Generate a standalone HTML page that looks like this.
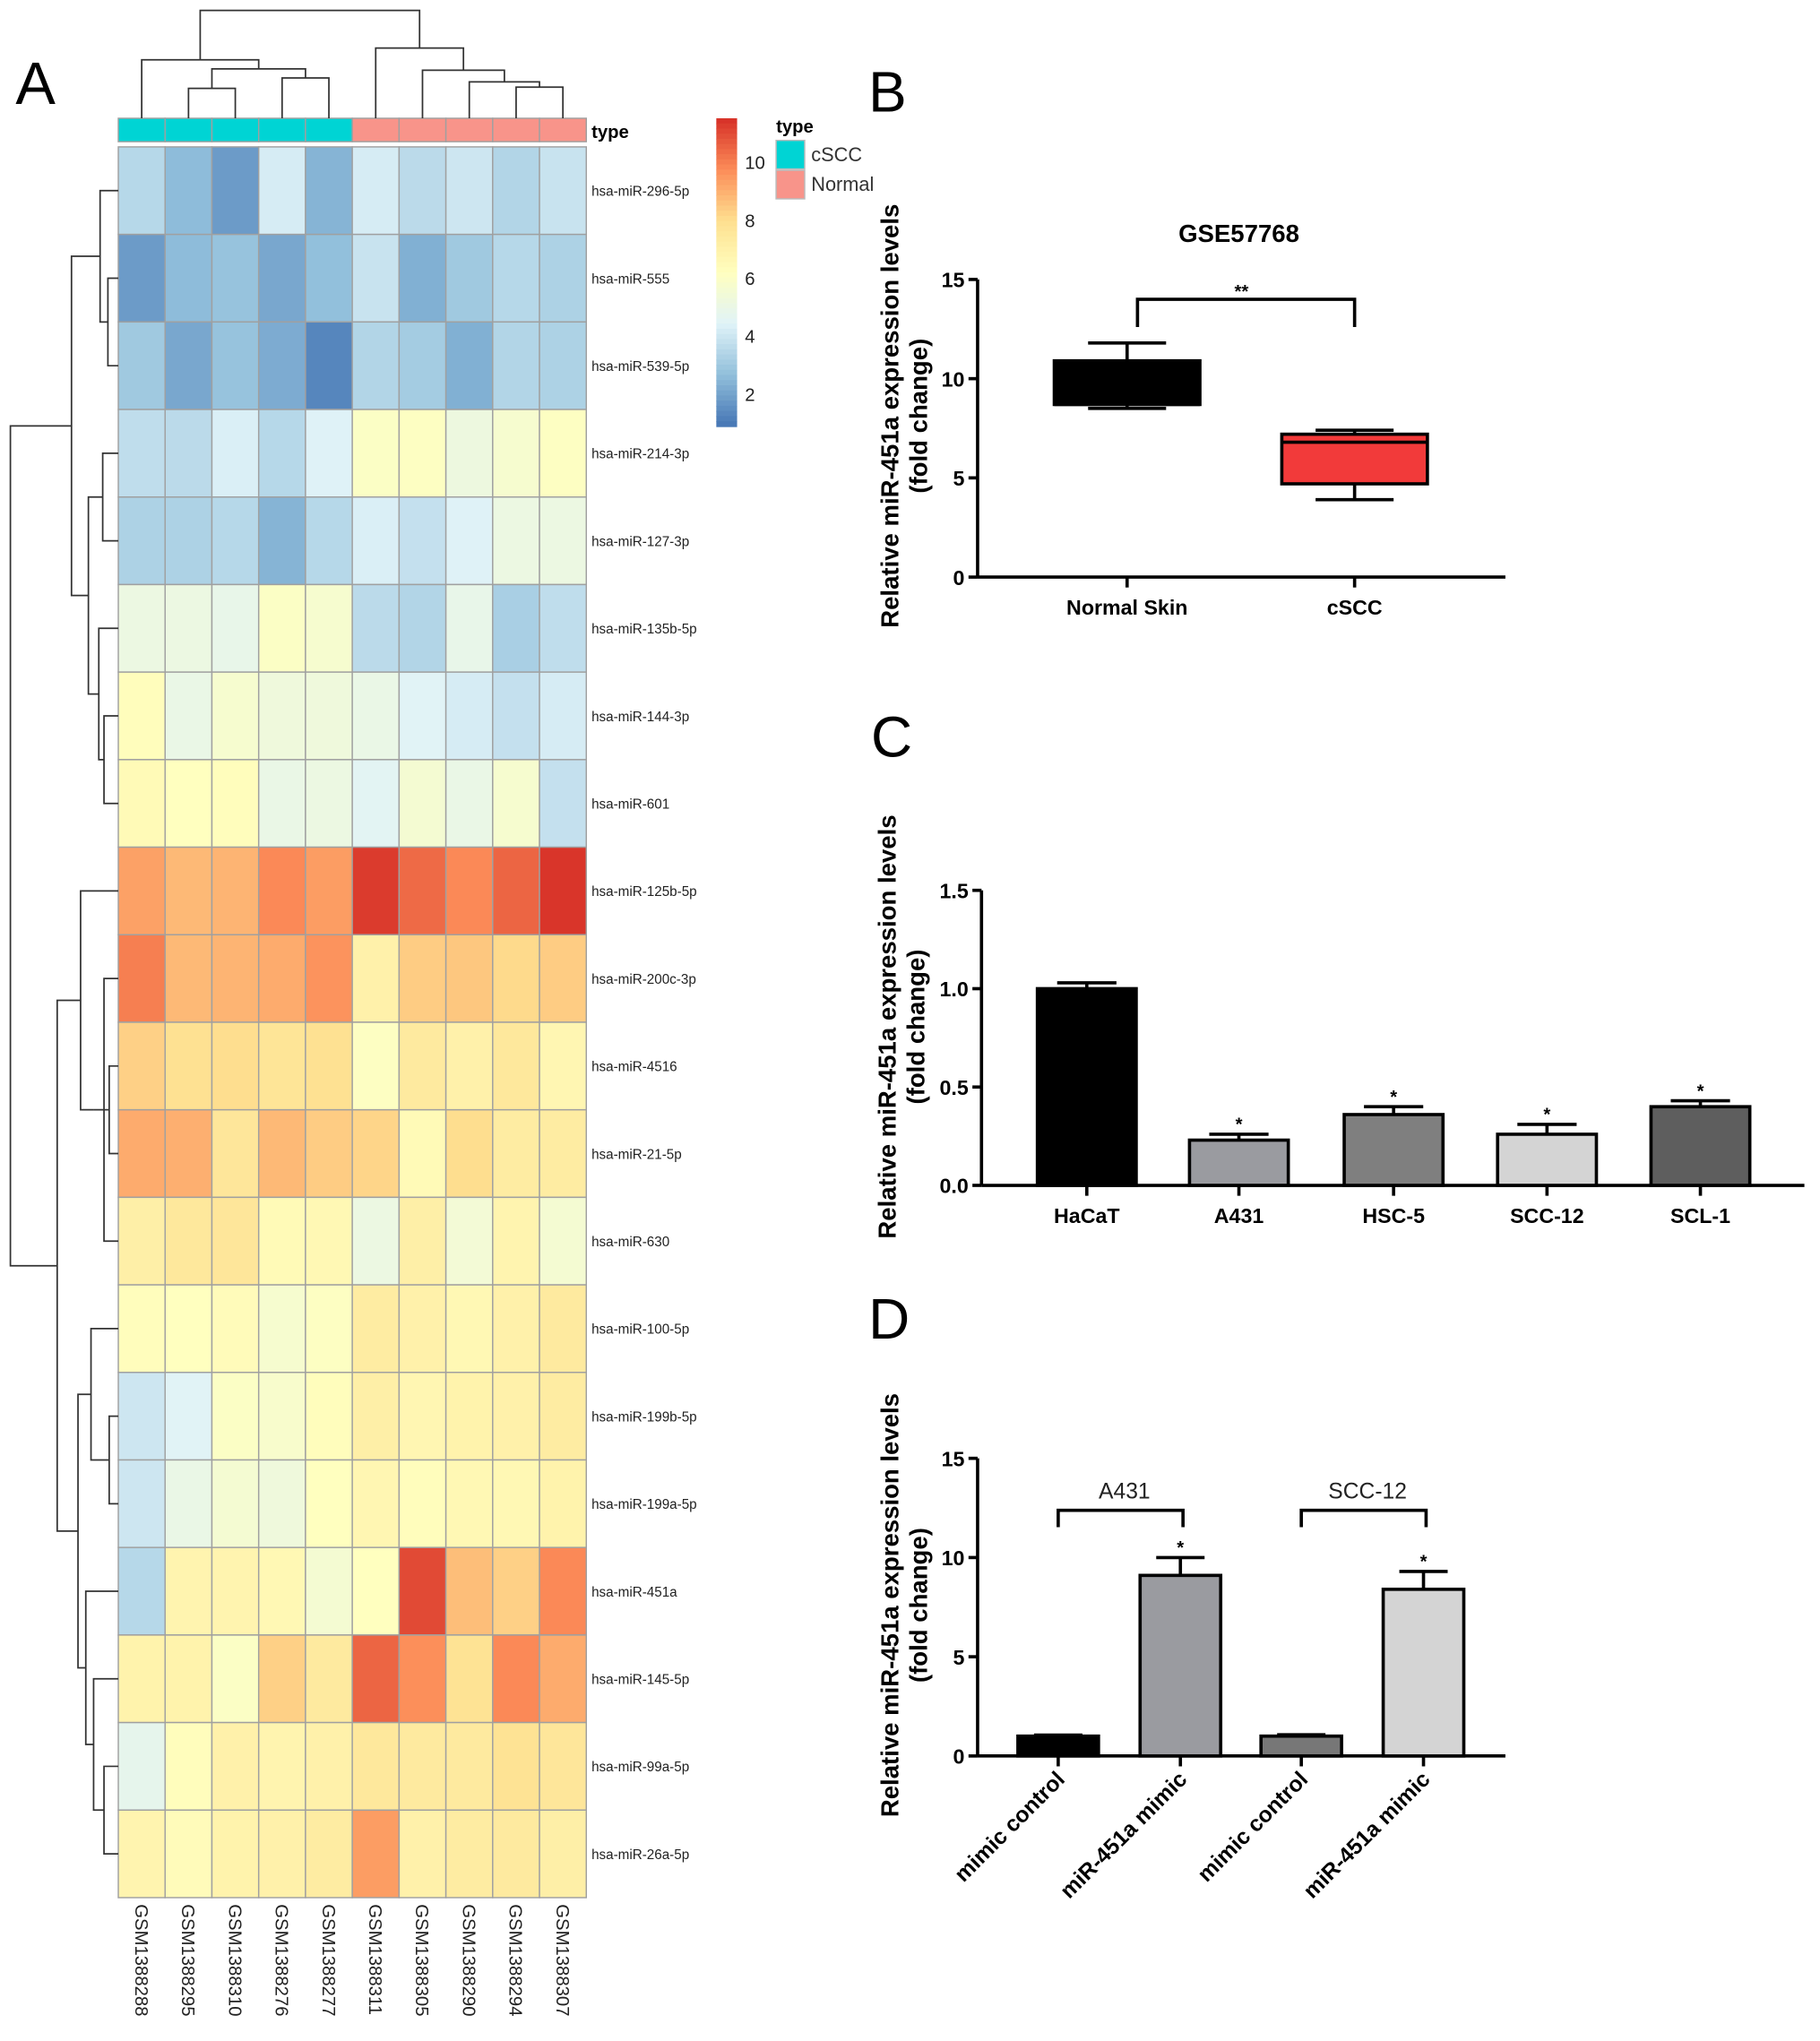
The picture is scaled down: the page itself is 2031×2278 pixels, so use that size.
<!DOCTYPE html>
<html><head><meta charset="utf-8"><style>
html,body{margin:0;padding:0;background:#fff;}
svg{display:block;font-family:"Liberation Sans",Arial,sans-serif;}
</style></head><body>
<svg id="fig" width="2031" height="2278" viewBox="0 0 1400 1570.3" preserveAspectRatio="none" xmlns="http://www.w3.org/2000/svg">
<g id="hm"></g>
<g id="pb"></g>
<g id="pc"></g>
<g id="pd"></g>
</svg>
<script>
// ---------- Heatmap data ----------
const sampleNames = ["GSM1388288","GSM1388295","GSM1388310","GSM1388276","GSM1388277","GSM1388311","GSM1388305","GSM1388290","GSM1388294","GSM1388307"];
const sampleTypes = ["cSCC","cSCC","cSCC","cSCC","cSCC","Normal","Normal","Normal","Normal","Normal"];
const mirNames = ["hsa-miR-296-5p","hsa-miR-555","hsa-miR-539-5p","hsa-miR-214-3p","hsa-miR-127-3p","hsa-miR-135b-5p","hsa-miR-144-3p","hsa-miR-601","hsa-miR-125b-5p","hsa-miR-200c-3p","hsa-miR-4516","hsa-miR-21-5p","hsa-miR-630","hsa-miR-100-5p","hsa-miR-199b-5p","hsa-miR-199a-5p","hsa-miR-451a","hsa-miR-145-5p","hsa-miR-99a-5p","hsa-miR-26a-5p"];
const expr = [
[3.5,2.6,1.8,4.2,2.4,4.2,3.6,4.0,3.4,3.9],
[1.8,2.6,2.8,2.1,2.7,3.9,2.3,3.0,3.5,3.3],
[3.0,2.1,2.8,2.2,1.3,3.4,3.1,2.3,3.4,3.3],
[3.7,3.6,4.3,3.5,4.4,6.0,6.1,5.2,5.7,6.1],
[3.3,3.3,3.5,2.4,3.5,4.3,3.8,4.4,5.1,5.1],
[5.1,5.1,4.9,6.0,5.7,3.6,3.4,4.9,3.2,3.7],
[6.3,5.0,5.7,5.3,5.3,5.0,4.5,4.2,3.8,4.2],
[6.5,6.2,6.3,5.0,5.1,4.6,5.6,5.0,5.7,3.8],
[9.3,8.8,8.9,9.8,9.4,11.3,10.4,9.8,10.5,11.4],
[10.0,8.8,8.9,9.1,9.6,7.0,8.4,8.5,8.1,8.4],
[8.3,7.9,8.0,7.7,7.9,6.1,7.4,7.0,7.5,6.7],
[9.1,9.0,7.6,8.8,8.4,8.2,6.5,8.0,7.3,7.3],
[7.1,7.5,7.6,6.5,6.6,5.1,7.1,5.5,6.8,5.6],
[6.3,6.2,6.4,5.7,6.1,7.3,7.0,6.6,7.0,7.4],
[4.0,4.5,6.0,5.8,6.3,7.1,6.7,6.9,7.0,7.3],
[4.0,5.0,5.6,5.3,6.2,6.7,6.3,6.6,6.6,6.9],
[3.5,6.8,6.8,6.6,5.6,6.2,11.0,8.7,8.3,9.8],
[6.9,6.9,6.0,8.3,7.4,10.5,9.7,7.8,9.8,9.1],
[4.8,6.3,7.0,6.8,7.0,7.5,7.4,7.4,7.8,7.6],
[6.8,6.4,6.9,7.0,7.3,9.4,7.0,7.3,7.4,7.1]];
const colorTicks = [2,4,6,8,10];
// ---------- Panel B data ----------
const bCats = ["Normal Skin","cSCC"];
const bMin = [8.5,3.9], bQ1=[8.7,4.7], bMed=[8.7,6.8], bQ3=[10.9,7.2], bMax=[11.8,7.4];
const bTicks=[0,5,10,15];
// ---------- Panel C data ----------
const cCats=["HaCaT","A431","HSC-5","SCC-12","SCL-1"];
const cVals=[1.0,0.23,0.36,0.26,0.40];
const cErr=[0.03,0.03,0.04,0.05,0.03];
const cSig=["","*","*","*","*"];
const cTicks=[0,0.5,1.0,1.5];
// ---------- Panel D data ----------
const dCats=["mimic control","miR-451a mimic","mimic control","miR-451a mimic"];
const dVals=[1.0,9.1,1.0,8.4];
const dErr=[0.05,0.9,0.07,0.9];
const dSig=["","*","","*"];
const dGroups=["A431","SCC-12"];
const dTicks=[0,5,10,15];

const NS="http://www.w3.org/2000/svg";
function mk(parent,tag,attrs,text){const e=document.createElementNS(NS,tag);for(const k in attrs)e.setAttribute(k,attrs[k]);if(text!==undefined)e.textContent=text;parent.appendChild(e);return e;}

const stops=["#4575B4","#91BFDB","#E0F3F8","#FFFFBF","#FEE090","#FC8D59","#D73027"];
const vmin=0.9,vmax=11.5;
function hex(h){return [parseInt(h.slice(1,3),16),parseInt(h.slice(3,5),16),parseInt(h.slice(5,7),16)];}
function cmap(v){let t=(v-vmin)/(vmax-vmin);t=Math.max(0,Math.min(1,t))*(stops.length-1);const i=Math.min(Math.floor(t),stops.length-2);const f=t-i;const a=hex(stops[i]),b=hex(stops[i+1]);return "rgb("+a.map((x,k)=>Math.round(x+(b[k]-x)*f)).join(",")+")";}

// ---------- Heatmap ----------
const hm=document.getElementById('hm');
const HX=91,HY=113,CW=36,RH=(1460-113)/20;
expr.forEach((row,r)=>row.forEach((v,c)=>{
  const e=mk(hm,'rect',{x:HX+c*CW,y:HY+r*RH,width:CW,height:RH,fill:cmap(v),stroke:'#a0a0a0','stroke-width':1});
  
  
}));
sampleTypes.forEach((t,c)=>{
  const e=mk(hm,'rect',{x:HX+c*CW,y:91,width:CW,height:18,fill:t==="cSCC"?"#00D4D4":"#F8948A",stroke:'#a0a0a0','stroke-width':1});
  
  
});
let tl=mk(hm,'text',{x:455,y:106,'font-size':14,'font-weight':'bold'},"type");

mirNames.forEach((n,r)=>{const e=mk(hm,'text',{x:455,y:HY+(r+0.5)*RH+4,'font-size':10.5,fill:'#222'},n);
  });
sampleNames.forEach((n,c)=>{const x=HX+(c+0.5)*CW-5;const e=mk(hm,'text',{x:0,y:0,'font-size':14,fill:'#222',transform:`translate(${x},1465) rotate(90)`},n);
  });
const cbTop=91,cbBot=328;
const cbY=v=>125+(10-v)*22.3;
for(let i=0;i<60;i++){const y0=cbTop+(cbBot-cbTop)*i/60;const v=(10-(y0+2-125)/22.3);
  const e=mk(hm,'rect',{x:551,y:y0,width:16,height:(cbBot-cbTop)/60+0.6,fill:cmap(v)});
  }
colorTicks.forEach(v=>{const e=mk(hm,'text',{x:573,y:cbY(v)+5,'font-size':14,fill:'#222'},String(v));
  });
let lt=mk(hm,'text',{x:597,y:102,'font-size':14,'font-weight':'bold'},"type");
[["cSCC","#00D4D4",108],["Normal","#F8948A",131]].forEach(([n,col,y])=>{
  const r=mk(hm,'rect',{x:597,y:y,width:22,height:22,fill:col,stroke:'#bbb'});
  const t=mk(hm,'text',{x:624,y:y+16,'font-size':15,fill:'#333'},n);});
let la=mk(hm,'text',{x:12,y:80,'font-size':46},"A");

function drawTree(node,pos,horizontal,leafEdge,g){
  if(typeof node==="number") return [pos(node),leafEdge];
  const a=drawTree(node.c[0],pos,horizontal,leafEdge,g),b=drawTree(node.c[1],pos,horizontal,leafEdge,g);
  const h=node.h;let d;
  if(horizontal) d=`M${a[1]},${a[0]}H${h}V${b[0]}H${b[1]}`;
  else d=`M${a[0]},${a[1]}V${h}H${b[0]}V${b[1]}`;
  const p=mk(g,'path',{d:d,fill:'none',stroke:'#333','stroke-width':1.2});
  
  return [(a[0]+b[0])/2,h];
}
const colTree={h:8,c:[{h:46,c:[0,{h:53,c:[{h:68,c:[1,2]},{h:60,c:[3,4]}]}]},{h:37,c:[5,{h:54,c:[6,{h:63,c:[7,{h:67,c:[8,9]}]}]}]}]};
drawTree(colTree,i=>HX+(i+0.5)*CW,false,91,hm);
const rowTree={h:8,c:[
 {h:55,c:[{h:77,c:[0,{h:83,c:[1,2]}]},{h:68,c:[{h:79,c:[3,4]},{h:76,c:[5,{h:80,c:[6,7]}]}]}]},
 {h:44,c:[{h:62,c:[8,{h:72,c:[{h:80,c:[9,12]},{h:84,c:[10,11]}]}]},{h:60,c:[{h:70,c:[13,{h:84,c:[14,15]}]},{h:66,c:[16,{h:72,c:[17,{h:80,c:[18,19]}]}]}]}]}]};
drawTree(rowTree,i=>HY+(i+0.5)*RH,true,91,hm);

function yAxis(g,x,y0,y1,vmax,ticks,fmt){
  const ys=v=>y0-(v/vmax)*(y0-y1);
  const l=mk(g,'line',{x1:x,y1:y1,x2:x,y2:y0,stroke:'#000','stroke-width':2.5});
  ticks.forEach(v=>{const t=mk(g,'line',{x1:x-7,y1:ys(v),x2:x,y2:ys(v),stroke:'#000','stroke-width':2.5});
    const tx=mk(g,'text',{x:x-10,y:ys(v)+6,'font-size':16,'font-weight':'bold','text-anchor':'end'},fmt(v));});
  return ys;
}
function yTitle(g,x,cy){
  const t1=mk(g,'text',{x:0,y:0,'font-size':19,'font-weight':'bold','text-anchor':'middle',transform:`translate(${x},${cy}) rotate(-90)`},"Relative miR-451a expression levels");
  
  const t2=mk(g,'text',{x:0,y:0,'font-size':19,'font-weight':'bold','text-anchor':'middle',transform:`translate(${x+22},${cy}) rotate(-90)`},"(fold change)");
  
}
function xAxis(g,x0,x1,y){const l=mk(g,'line',{x1:x0,y1:y,x2:x1,y2:y,stroke:'#000','stroke-width':2.5});}
function lbl(g,x,y,s,size,name){const t=mk(g,'text',{x:x,y:y,'font-size':size},s);return t;}

// ---------- Panel B ----------
const pb=document.getElementById('pb');
lbl(pb,668,86,"B",44,'panel-label-b');
const bt=mk(pb,'text',{x:953,y:186,'font-size':19,'font-weight':'bold','text-anchor':'middle'},"GSE57768");
const bys=yAxis(pb,752,444,215,15,bTicks,v=>String(v));
xAxis(pb,752,1158,444);
yTitle(pb,691,320);
const bX=[867,1042],bCol=["#000","#F23A3A"],BW=112;
bCats.forEach((c,i)=>{
  const x=bX[i];
  const w=mk(pb,'path',{d:`M${x},${bys(bMax[i])}V${bys(bMin[i])}M${x-30},${bys(bMax[i])}H${x+30}M${x-30},${bys(bMin[i])}H${x+30}`,stroke:'#000','stroke-width':2.5,fill:'none'});
  
  const r=mk(pb,'rect',{x:x-BW/2,y:bys(bQ3[i]),width:BW,height:bys(bQ1[i])-bys(bQ3[i]),fill:bCol[i],stroke:'#000','stroke-width':2.5});
  
  const m=mk(pb,'line',{x1:x-BW/2,x2:x+BW/2,y1:bys(bMed[i]),y2:bys(bMed[i]),stroke:'#000','stroke-width':2.5});
  const t=mk(pb,'line',{x1:x,x2:x,y1:444,y2:452,stroke:'#000','stroke-width':2.5});
  const tx=mk(pb,'text',{x:x,y:473,'font-size':16,'font-weight':'bold','text-anchor':'middle'},c);
});
const bb=mk(pb,'path',{d:`M875,${bys(12.6)}V${bys(14)}H1042V${bys(12.6)}`,stroke:'#000','stroke-width':2.5,fill:'none'});
const bs=mk(pb,'text',{x:955,y:229,'font-size':14,'font-weight':'bold','text-anchor':'middle'},"**");

function bars(g,xs,w,vals,err,sig,cols,ys,y0){
  vals.forEach((v,i)=>{
    const x=xs[i];
    const e=mk(g,'path',{d:`M${x},${ys(v)}V${ys(v+err[i])}M${x-w*0.3},${ys(v+err[i])}H${x+w*0.3}`,stroke:'#000','stroke-width':2.5,fill:'none'});
    
    const r=mk(g,'rect',{x:x-w/2,y:ys(v),width:w,height:y0-ys(v),fill:cols[i],stroke:'#000','stroke-width':2.5});
    
    if(sig[i]){const s=mk(g,'text',{x:x,y:ys(v+err[i])-3,'font-size':14,'font-weight':'bold','text-anchor':'middle'},sig[i]);}
    const t=mk(g,'line',{x1:x,x2:x,y1:y0,y2:y0+8,stroke:'#000','stroke-width':2.5});
  });
}

// ---------- Panel C ----------
const pc=document.getElementById('pc');
lbl(pc,670,582,"C",44,'panel-label-c');
const cys=yAxis(pc,755,912,685,1.5,cTicks,v=>v.toFixed(1));
xAxis(pc,755,1388,912);
yTitle(pc,689,790);
const cX=[836,953,1072,1190,1308];
bars(pc,cX,76,cVals,cErr,cSig,["#000","#9A9BA0","#7F7F7F","#D4D4D4","#5E5E5E"],cys,912);
cCats.forEach((c,i)=>{const t=mk(pc,'text',{x:cX[i],y:941,'font-size':16,'font-weight':'bold','text-anchor':'middle'},c);});

// ---------- Panel D ----------
const pd=document.getElementById('pd');
lbl(pd,668,1030,"D",44,'panel-label-d');
const dys=yAxis(pd,752,1351,1122,15,dTicks,v=>String(v));
xAxis(pd,752,1158,1351);
yTitle(pd,691,1235);
const dX=[814,908,1001,1095];
bars(pd,dX,62,dVals,dErr,dSig,["#000","#9A9BA0","#777","#D4D4D4"],dys,1351);
dCats.forEach((c,i)=>{const t=mk(pd,'text',{x:0,y:0,'font-size':17,'font-weight':'bold','text-anchor':'end',transform:`translate(${dX[i]+6},${1370}) rotate(-45)`},c);});
dGroups.forEach((gname,k)=>{
  const a=dX[2*k],b=dX[2*k+1];
  const p=mk(pd,'path',{d:`M${a},1175V1162H${b+2}V1175`,stroke:'#000','stroke-width':2.5,fill:'none'});
  const t=mk(pd,'text',{x:(a+b)/2+4,y:1153,'font-size':17,'text-anchor':'middle',fill:'#222'},gname);
});
</script>
</body></html>
